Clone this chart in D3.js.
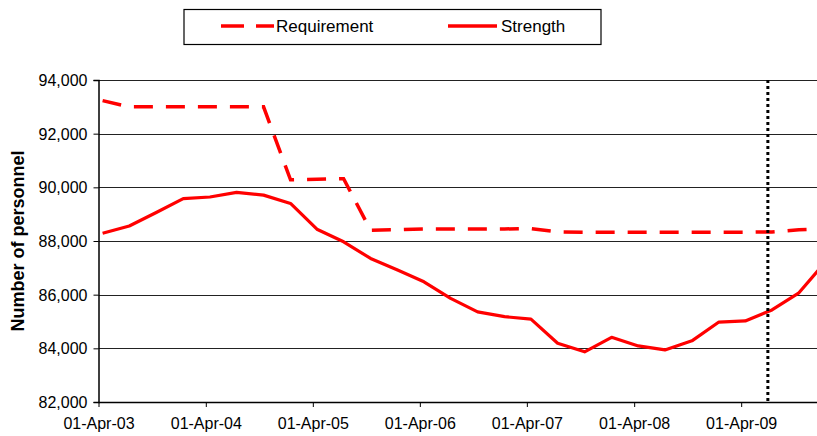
<!DOCTYPE html>
<html>
<head>
<meta charset="utf-8">
<script src="https://cdn.jsdelivr.net/npm/d3@7"></script>
<style>
  body { margin: 0; background: #fff; }
  svg { display: block; font-family: "Liberation Sans", Arial, sans-serif; }
  .tick text { font-size: 16px; fill: #000; }
</style>
</head>
<body>
<div id="app"></div>
<script>
// quarterly observation dates
const dates = [
  '2003-04-15', '2003-07-15', '2003-10-15', '2004-01-15',
  '2004-04-15', '2004-07-15', '2004-10-15', '2005-01-15',
  '2005-04-15', '2005-07-15', '2005-10-15', '2006-01-15',
  '2006-04-15', '2006-07-15', '2006-10-15', '2007-01-15',
  '2007-04-15', '2007-07-15', '2007-10-15', '2008-01-15',
  '2008-04-15', '2008-07-15', '2008-10-15', '2009-01-15',
  '2009-04-15', '2009-07-15', '2009-10-15', '2010-01-15'
];
const requirement = [
  93230, 93000, 93000, 93000,
  93000, 93000, 93000, 90280,
  90300, 90320, 88400, 88420,
  88450, 88450, 88450, 88450,
  88460, 88340, 88330, 88330,
  88330, 88330, 88330, 88330,
  88330, 88340, 88420, 88450
];
const strength = [
  88290, 88560, 89060, 89580,
  89640, 89810, 89710, 89400,
  88440, 87970, 87350, 86920,
  86480, 85860, 85360, 85180,
  85090, 84190, 83870, 84410,
  84090, 83940, 84280, 84980,
  85020, 85430, 86070, 87240
];
const xTicks = ['2003-04-01', '2004-04-01', '2005-04-01', '2006-04-01', '2007-04-01', '2008-04-01', '2009-04-01'];
const yTicks = [82000, 84000, 86000, 88000, 90000, 92000, 94000];
const markerDate = '2009-07-01';
const seriesNames = ['Requirement', 'Strength'];

function render() {
  const width = 817;
  const height = 436;
  const margin = { left: 98.5, top: 80, bottom: 34 };
  const parse = d3.timeParse('%Y-%m-%d');

  const svg = d3.select('#app').append('svg').attr('width', width).attr('height', height);

  const x = d3.scaleTime([parse('2003-04-01'), parse('2010-04-01')], [margin.left, margin.left + 7 * 107.1]);
  const y = d3.scaleLinear([82000, 94000], [height - margin.bottom, margin.top]);

  // gridlines
  svg.append('g').selectAll('line').data(yTicks.slice(1)).join('line')
    .attr('x1', margin.left).attr('x2', width)
    .attr('y1', d => Math.round(y(d)) + 0.5).attr('y2', d => Math.round(y(d)) + 0.5)
    .attr('stroke', '#222').attr('stroke-width', 1);

  // y axis
  const yAxis = svg.append('g').attr('transform', `translate(${margin.left},0)`)
    .call(d3.axisLeft(y).tickValues(yTicks).tickFormat(d3.format(',')).tickSize(5).tickPadding(6));
  yAxis.select('.domain').attr('stroke', '#000').attr('stroke-width', 1.5);
  yAxis.selectAll('.tick line').attr('stroke', '#000');
  yAxis.selectAll('.tick text').attr('dy', '0.35em');

  // x axis
  const xAxis = svg.append('g').attr('transform', `translate(0,${y(82000)})`)
    .call(d3.axisBottom(x).tickValues(xTicks.map(parse)).tickFormat(d3.timeFormat('%d-%b-%y')).tickSize(5).tickPadding(11));
  xAxis.select('.domain').attr('stroke', '#000').attr('stroke-width', 1.5).attr('d', `M${margin.left},0.5H${width}`);
  xAxis.selectAll('.tick line').attr('stroke', '#000');

  // y title
  svg.append('text')
    .attr('transform', `translate(24,${(margin.top + y(82000)) / 2}) rotate(-90)`)
    .attr('text-anchor', 'middle')
    .attr('font-size', 18).attr('font-weight', 'bold')
    .text('Number of personnel');

  const line = d3.line().x(d => x(d[0])).y(d => y(d[1]));
  const parsedDates = dates.map(parse);

  // requirement (dashed)
  svg.append('path')
    .datum(parsedDates.map((d, i) => [d, requirement[i]]))
    .attr('d', line)
    .attr('fill', 'none')
    .attr('stroke', '#ff0000')
    .attr('stroke-width', 3.5)
    .attr('stroke-dasharray', '19,13');

  // strength (solid)
  svg.append('path')
    .datum(parsedDates.map((d, i) => [d, strength[i]]))
    .attr('d', line)
    .attr('fill', 'none')
    .attr('stroke', '#ff0000')
    .attr('stroke-width', 3.2)
    .attr('stroke-linejoin', 'round');

  // marker line
  svg.append('line')
    .attr('x1', x(parse(markerDate))).attr('x2', x(parse(markerDate)))
    .attr('y1', margin.top).attr('y2', y(82000))
    .attr('stroke', '#000')
    .attr('stroke-width', 3)
    .attr('stroke-dasharray', '3,3');

  // legend
  const legend = svg.append('g');
  legend.append('rect')
    .attr('x', 184).attr('y', 9.5).attr('width', 417).attr('height', 35)
    .attr('fill', '#fff').attr('stroke', '#000').attr('stroke-width', 1.2);
  const items = [
    { name: seriesNames[0], x1: 221, x2: 274, tx: 276, dash: '23,12' },
    { name: seriesNames[1], x1: 448, x2: 497, tx: 501, dash: null }
  ];
  items.forEach(it => {
    legend.append('line')
      .attr('x1', it.x1).attr('x2', it.x2).attr('y1', 26).attr('y2', 26)
      .attr('stroke', '#ff0000').attr('stroke-width', 3.5)
      .attr('stroke-dasharray', it.dash);
    legend.append('text')
      .attr('x', it.tx).attr('y', 32)
      .attr('font-size', 17)
      .text(it.name);
  });
}

render();
</script>
</body>
</html>
